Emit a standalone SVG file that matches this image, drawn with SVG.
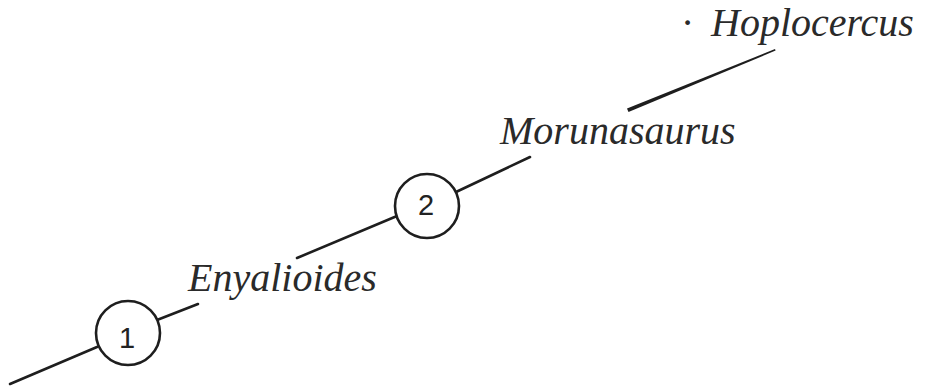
<svg xmlns="http://www.w3.org/2000/svg" width="926" height="389" viewBox="0 0 926 389">
<style>
.bg{fill:#ffffff}
.edge{stroke:#1e1e1e;stroke-width:2.6;stroke-linecap:round;fill:none}
.node{fill:#ffffff;stroke:#1e1e1e;stroke-width:2.6}
.num{font-family:"Liberation Sans",Arial,sans-serif;font-size:29px;fill:#222;text-anchor:middle}
.taxon{font-family:"Liberation Serif","Times New Roman",serif;font-style:italic;font-size:40px;fill:#2a2a2a}
</style>
<rect class="bg" x="0" y="0" width="926" height="389"/>
<g id="connectors">
<line class="edge" x1="10" y1="384" x2="97" y2="347"/>
<line class="edge" x1="157" y1="320" x2="198" y2="304"/>
<line class="edge" x1="297" y1="258" x2="397" y2="216"/>
<line class="edge" x1="456" y1="192" x2="530" y2="157"/>
<polygon points="627,108.5 775,49 775.6,50.6 628.5,112" fill="#1e1e1e"/>
</g>
<g id="node-1">
<circle class="node" cx="128" cy="333" r="32"/>
<text class="num" x="127" y="348">1</text>
</g>
<g id="node-2">
<circle class="node" cx="427" cy="206" r="32"/>
<text class="num" x="426" y="215">2</text>
</g>
<g id="taxon-enyalioides">
<text class="taxon" x="188" y="291">Enyalioides</text>
</g>
<g id="taxon-morunasaurus">
<text class="taxon" x="500" y="144">Morunasaurus</text>
</g>
<g id="taxon-hoplocercus">
<text class="taxon" x="682" y="36">·</text>
<text class="taxon" x="711" y="36">Hoplocercus</text>
</g>
</svg>
